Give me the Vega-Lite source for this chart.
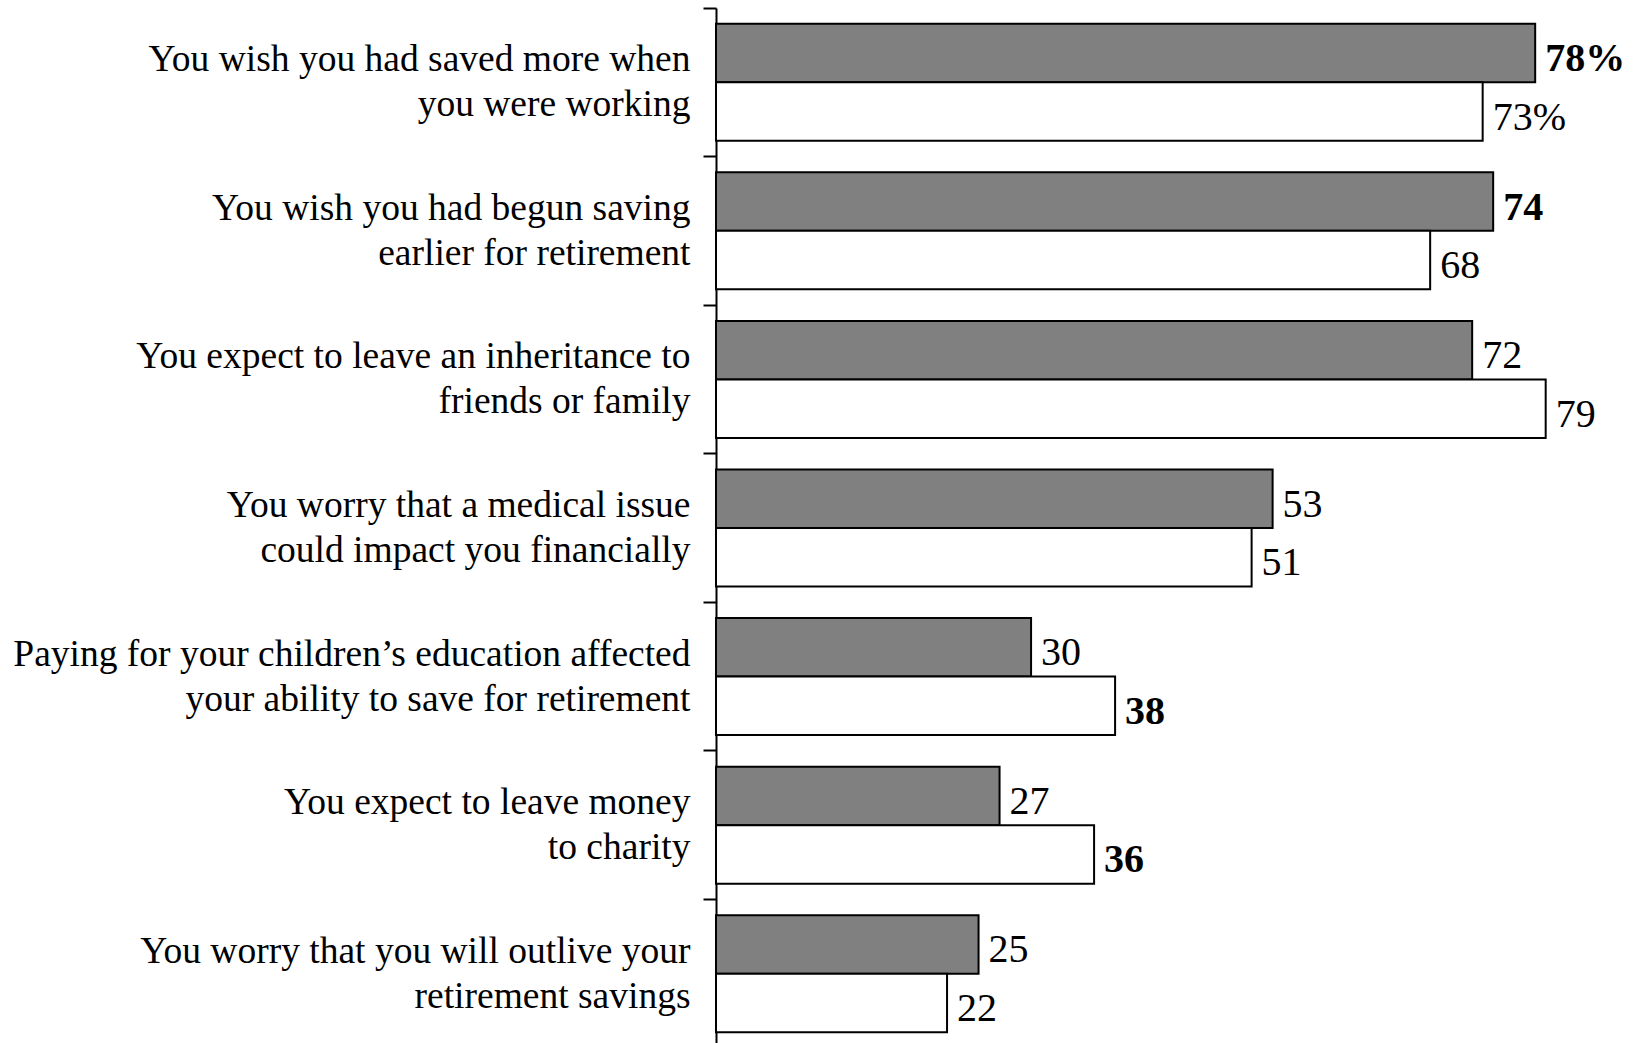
{
  "$schema": "https://vega.github.io/schema/vega-lite/v6.json",
  "width": 920,
  "height": 1040,
  "autosize": {"type": "none"},
  "padding": {"left": 716, "top": 8, "right": 0, "bottom": 0},
  "background": "white",
  "config": {"view": {"stroke": null}, "font": "Liberation Serif"},
  "data": {
    "values": [
      {"statement": "You wish you had saved more when|you were working", "series": "Current", "value": 78, "label": "78%", "sig": true},
      {"statement": "You wish you had saved more when|you were working", "series": "Prior", "value": 73, "label": "73%", "sig": false},
      {"statement": "You wish you had begun saving|earlier for retirement", "series": "Current", "value": 74, "label": "74", "sig": true},
      {"statement": "You wish you had begun saving|earlier for retirement", "series": "Prior", "value": 68, "label": "68", "sig": false},
      {"statement": "You expect to leave an inheritance to|friends or family", "series": "Current", "value": 72, "label": "72", "sig": false},
      {"statement": "You expect to leave an inheritance to|friends or family", "series": "Prior", "value": 79, "label": "79", "sig": false},
      {"statement": "You worry that a medical issue|could impact you financially", "series": "Current", "value": 53, "label": "53", "sig": false},
      {"statement": "You worry that a medical issue|could impact you financially", "series": "Prior", "value": 51, "label": "51", "sig": false},
      {"statement": "Paying for your children’s education affected|your ability to save for retirement", "series": "Current", "value": 30, "label": "30", "sig": false},
      {"statement": "Paying for your children’s education affected|your ability to save for retirement", "series": "Prior", "value": 38, "label": "38", "sig": true},
      {"statement": "You expect to leave money|to charity", "series": "Current", "value": 27, "label": "27", "sig": false},
      {"statement": "You expect to leave money|to charity", "series": "Prior", "value": 36, "label": "36", "sig": true},
      {"statement": "You worry that you will outlive your|retirement savings", "series": "Current", "value": 25, "label": "25", "sig": false},
      {"statement": "You worry that you will outlive your|retirement savings", "series": "Prior", "value": 22, "label": "22", "sig": false}
    ]
  },
  "encoding": {
    "y": {
      "field": "statement",
      "type": "nominal",
      "sort": null,
      "scale": {"paddingInner": 0, "paddingOuter": 0},
      "axis": {
        "title": null,
        "domain": true,
        "domainColor": "black",
        "domainWidth": 2,
        "ticks": true,
        "tickColor": "black",
        "tickWidth": 2,
        "tickSize": 13,
        "bandPosition": 0,
        "labelOffset": -22,
        "grid": false,
        "labelFont": "Liberation Serif",
        "labelFontSize": 37.5,
        "labelColor": "black",
        "labelPadding": 13,
        "labelLimit": 0,
        "labelLineHeight": 45,
        "labelBaseline": "middle",
        "labelExpr": "split(datum.value, '|')"
      }
    },
    "yOffset": {
      "field": "series",
      "type": "nominal",
      "sort": ["Current", "Prior"],
      "scale": {"paddingInner": 0, "paddingOuter": 0.27}
    },
    "x": {
      "field": "value",
      "type": "quantitative",
      "scale": {"domain": [0, 87.6]},
      "axis": null
    }
  },
  "layer": [
    {
      "mark": {"type": "bar", "stroke": "black", "strokeWidth": 2},
      "encoding": {
        "color": {
          "field": "series",
          "type": "nominal",
          "scale": {"domain": ["Current", "Prior"], "range": ["#808080", "#ffffff"]},
          "legend": null
        }
      }
    },
    {
      "transform": [{"filter": "!datum.sig"}],
      "mark": {"type": "text", "align": "left", "baseline": "middle", "dx": 10, "dy": 6, "fontSize": 40, "fontWeight": "normal", "color": "black", "font": "Liberation Serif"},
      "encoding": {"text": {"field": "label", "type": "nominal"}}
    },
    {
      "transform": [{"filter": "datum.sig"}],
      "mark": {"type": "text", "align": "left", "baseline": "middle", "dx": 10, "dy": 6, "fontSize": 40, "fontWeight": "bold", "color": "black", "font": "Liberation Serif"},
      "encoding": {"text": {"field": "label", "type": "nominal"}}
    }
  ]
}
